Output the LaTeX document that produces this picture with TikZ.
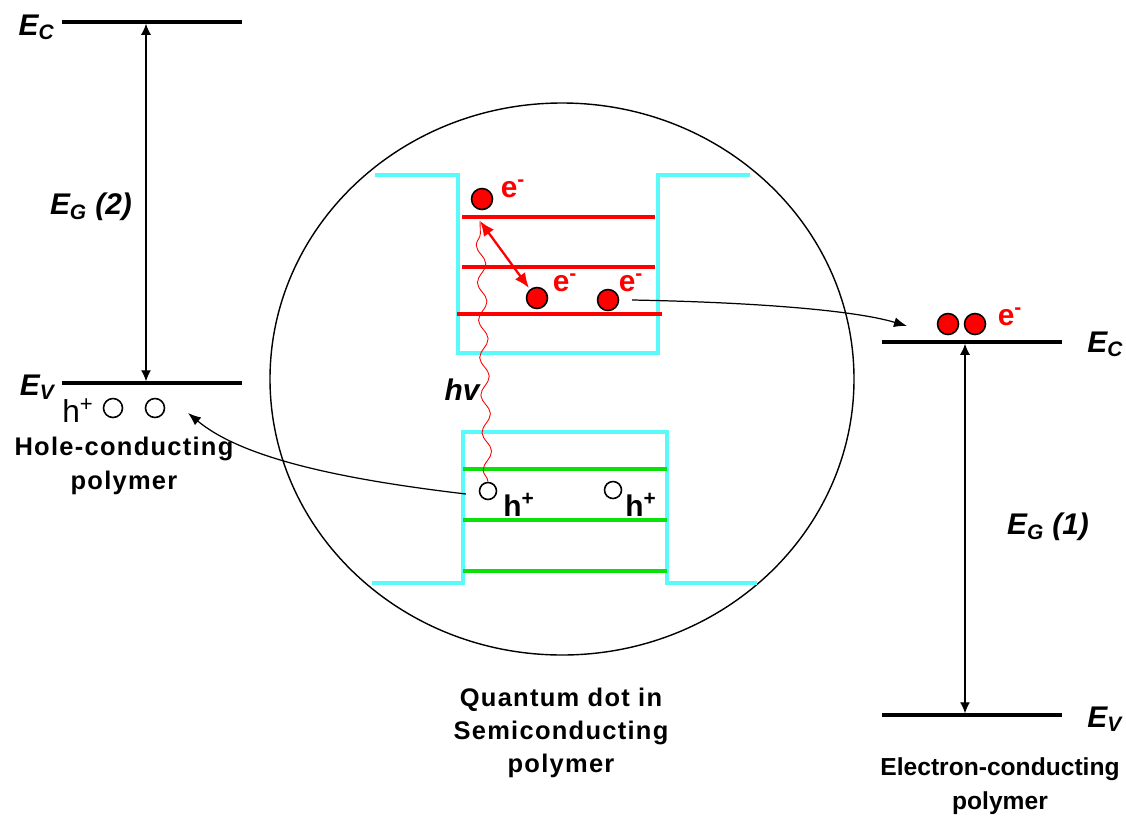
\documentclass[tikz,border=0pt]{standalone}
\usepackage{fontspec}
\setmainfont{Liberation Sans}
\usetikzlibrary{arrows, arrows.meta, positioning, decorations.pathmorphing}

\definecolor{wellcyan}{RGB}{90,250,250}
\definecolor{levgreen}{RGB}{10,225,10}

\begin{document}
\begin{tikzpicture}[x=0.02cm, y=-0.02cm,
    level/.style={line width=2.2pt},
    well/.style={draw=wellcyan, line width=2pt},
    elevel/.style={draw=red, line width=2pt},
    hlevel/.style={draw=levgreen, line width=2pt},
    electron/.style={circle, draw, fill=red, minimum size=0.42cm, inner sep=0pt, line width=0.9pt},
    hole/.style={circle, draw, minimum size=0.34cm, inner sep=0pt, line width=0.9pt},
    elabel/.style={text=red, font=\fontsize{17}{19}\selectfont\bfseries, inner sep=0pt},
    hlabel/.style={font=\fontsize{17}{19}\selectfont\bfseries, inner sep=0pt},
    energy/.style={font=\fontsize{17}{19}\selectfont\bfseries\itshape, inner sep=0pt},
    caption/.style={font=\fontsize{14}{19}\selectfont\bfseries, align=center},
    widecap/.style={caption, font=\fontsize{14.5}{19}\selectfont\bfseries\addfontfeatures{LetterSpace=5}},
    gap/.style={{Latex[length=0.22cm,width=0.2cm]}-{Latex[length=0.22cm,width=0.2cm]}, line width=0.7pt, shorten <=1pt, shorten >=1pt},
    transfer/.style={-{Latex[length=0.26cm,width=0.2cm]}, line width=0.7pt}
]
\useasboundingbox (0,0) rectangle (1126,822);

% Hole-conducting polymer
\draw[level] (62,22) coordinate (lEC1) -- (242,22) coordinate (lEC2);
\draw[level] (62,383) coordinate (lEV1) -- (242,383) coordinate (lEV2);
\coordinate (lECm) at (146,22);
\coordinate (lEVm) at (146,383);
\draw[gap] (lECm) -- (lEVm);
\node[energy, anchor=base east] (lECl) at (55,35) {E\textsubscript{C}};
\node[energy, anchor=base east] (lEVl) at (55,395) {E\textsubscript{V}};
\node[energy] (lEG) at (91,207) {E\textsubscript{G} (2)};
\node[font=\fontsize{18}{20}\selectfont, inner sep=0pt] (lhtxt) at (78,411) {h\textsuperscript{+}};
\node[hole, minimum size=0.38cm] (lh1) at (113,408) {};
\node[hole, minimum size=0.38cm] (lh2) at (155,408) {};
\node[widecap] (lcap) at (124,466) {Hole-conducting\\polymer};

% Quantum dot in semiconducting polymer
\draw[line width=0.8pt] (562,379) ellipse [x radius=292, y radius=276];
\node[widecap] (qcap) at (561,733) {Quantum dot in\\Semiconducting\\polymer};

% conduction band well
\draw[well] (375,175) -- (458,175) -- (458,353) -- (658,353) -- (658,175) -- (750,175);
\draw[elevel] (462,217) -- (655,217);
\draw[elevel] (462,267) -- (655,267);
\draw[elevel] (457,314) -- (662,314);

% valence band well
\draw[well] (372,583) -- (463,583) -- (463,432) -- (667,432) -- (667,583) -- (757,583);
\draw[hlevel] (463,469) -- (667,469);
\draw[hlevel] (463,520) -- (667,520);
\draw[hlevel] (463,571) -- (667,571);

% electrons
\node[electron] (e1) at (482,199) {};
\node[elabel] (e1l) at (513,189) {e\textsuperscript{-}};
\node[electron] (e2) at (537,298) {};
\node[elabel] (e2l) at (565,283) {e\textsuperscript{-}};
\node[electron] (e3) at (608,300) {};
\node[elabel] (e3l) at (631,283) {e\textsuperscript{-}};

% holes
\node[hole] (h1) at (488,491) {};
\node[hlabel] (h1l) at (519,505) {h\textsuperscript{+}};
\node[hole] (h2) at (613,490) {};
\node[hlabel] (h2l) at (641,505) {h\textsuperscript{+}};

% excitation
\coordinate (exTop) at (480,221);
\coordinate (exEnd) at (529,288);
\draw[red, decorate, decoration={snake, amplitude=0.09cm, segment length=0.75cm}, line width=0.5pt] (h1.north) -- (exTop);
\draw[red, {Latex[length=0.3cm,width=0.25cm]}-{Latex[length=0.3cm,width=0.25cm]}, line width=1.3pt] (exTop) -- (exEnd);
\node[font=\fontsize{17}{19}\selectfont\bfseries\itshape] (hv) at (462,390) {hv};

% Electron-conducting polymer
\draw[level] (882,342) coordinate (rEC1) -- (1062,342) coordinate (rEC2);
\draw[level] (882,715) coordinate (rEV1) -- (1062,715) coordinate (rEV2);
\coordinate (rECm) at (965,342);
\coordinate (rEVm) at (965,715);
\draw[gap] (rEVm) -- (rECm);
\node[energy, anchor=base west] (rECl) at (1087,352) {E\textsubscript{C}};
\node[energy, anchor=base west] (rEVl) at (1087,727) {E\textsubscript{V}};
\node[energy] (rEG) at (1048,527) {E\textsubscript{G} (1)};
\node[electron] (re1) at (948,324) {};
\node[electron] (re2) at (975,324) {};
\node[elabel] (re2l) at (1010,317) {e\textsuperscript{-}};
\node[caption] (rcap) at (1000,786) {Electron-conducting\\polymer};

% charge transfer
\coordinate (etStart) at (632,300);
\coordinate (etEnd) at (907,326);
\coordinate (htStart) at (466,494);
\coordinate (htEnd) at (188,413);
\draw[transfer] (etStart) .. controls (740,302) and (850,309) .. (etEnd);
\draw[transfer] (htStart) .. controls (330,478) and (240,456) .. (htEnd);

\end{tikzpicture}
\end{document}
